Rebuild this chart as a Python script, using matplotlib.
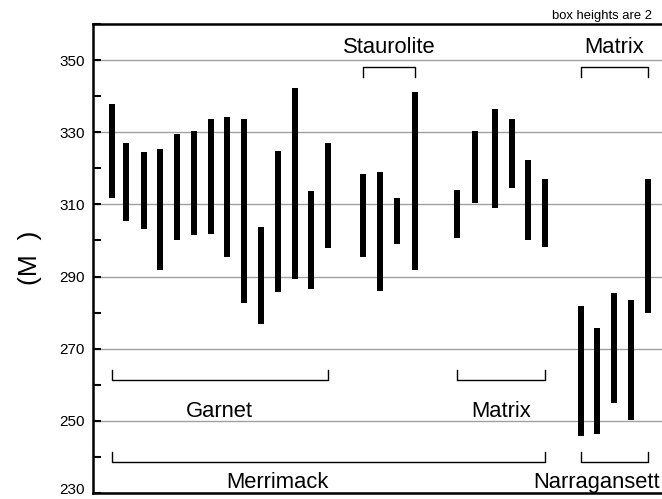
import matplotlib.pyplot as plt
from matplotlib.ticker import MultipleLocator
from matplotlib.transforms import ScaledTranslation

plt.rcParams['font.family'] = ['Liberation Sans', 'DejaVu Sans']

# sample positions (slot along the traverse) and age ranges (M.y.)
garnet_x = [1.13, 1.98, 3.02, 3.99, 4.98, 5.99, 7.02, 7.99, 9.01, 10.0, 11.01, 12.0, 12.96, 13.97]
garnet_lo = [311.8, 305.4, 303.1, 291.9, 300.1, 301.6, 301.7, 295.5, 282.8, 276.8, 285.6, 289.2, 286.6, 297.9]
garnet_hi = [337.7, 326.9, 324.5, 325.3, 329.4, 330.3, 333.7, 334.2, 333.7, 303.7, 324.8, 342.2, 313.6, 326.9]

staur_x = [16.09, 17.08, 18.11, 19.15]
staur_lo = [295.5, 286.0, 299.0, 291.8]
staur_hi = [318.4, 319.0, 311.8, 341.2]

mer_matrix_x = [21.68, 22.72, 23.93, 24.92, 25.89, 26.9]
mer_matrix_lo = [300.7, 310.5, 308.9, 314.5, 300.0, 298.1]
mer_matrix_hi = [314.0, 330.3, 336.5, 333.7, 322.3, 317.0]

narr_x = [29.03, 30.0, 31.01, 32.02, 33.02]
narr_lo = [245.7, 246.3, 255.0, 250.1, 279.8]
narr_hi = [281.9, 275.8, 285.3, 283.6, 317.0]

fig = plt.figure(figsize=(6.62, 4.99), dpi=100)
ax = fig.add_axes([93 / 662, 6 / 499, 1 - 93 / 662, 469 / 499])

groups = [(garnet_x, garnet_lo, garnet_hi), (staur_x, staur_lo, staur_hi),
          (mer_matrix_x, mer_matrix_lo, mer_matrix_hi), (narr_x, narr_lo, narr_hi)]
for xs, lo, hi in groups:
    ax.bar(xs, [h - l for l, h in zip(lo, hi)], bottom=lo, width=0.36, color='black', zorder=3)

ax.set_xlim(0, 33.87)
ax.set_ylim(230, 360)
ax.yaxis.set_major_locator(MultipleLocator(20))
ax.yaxis.set_minor_locator(MultipleLocator(10))
ax.set_yticks([230, 250, 270, 290, 310, 330, 350])
ax.set_xticks([])
ax.tick_params(axis='y', which='both', direction='in', length=6, width=1.5, labelsize=11, pad=6)
ax.grid(axis='y', which='major', color='#a0a0a0', linewidth=1.0, zorder=0)

# lowest label sits right on the figure edge; nudge it up a little
lab0 = ax.get_yticklabels()[0]
lab0.set_transform(lab0.get_transform() + ScaledTranslation(0, 3 / 72, fig.dpi_scale_trans))

for s in ['left', 'top', 'bottom']:
    ax.spines[s].set_linewidth(1.8)
ax.spines['right'].set_visible(False)


def bracket(xs, y, tick, label, label_x, label_y):
    x0, x1 = min(xs), max(xs)
    ax.plot([x0, x0, x1, x1], [y + tick, y, y, y + tick], color='black', lw=1.0, zorder=4)
    ax.text(label_x, label_y, label, ha='center', va='baseline', fontsize=15.8)


bracket(garnet_x, 261.4, 2.8, 'Garnet', (min(garnet_x) + max(garnet_x)) / 2, 251.2)
bracket(mer_matrix_x, 261.4, 2.8, 'Matrix', (min(mer_matrix_x) + max(mer_matrix_x)) / 2, 251.2)
bracket(garnet_x + mer_matrix_x, 238.7, 2.8, 'Merrimack', 11.0, 231.4)
bracket(narr_x, 238.7, 2.8, 'Narragansett', 30.0, 231.4)
bracket(staur_x, 348.1, -2.8, 'Staurolite', (min(staur_x) + max(staur_x)) / 2, 352.0)
bracket(narr_x, 348.1, -2.8, 'Matrix', (min(narr_x) + max(narr_x)) / 2, 352.0)

ax.text(33.26, 361.5, 'box heights are 2', ha='right', va='baseline', fontsize=9.4, clip_on=False)

fig.text(30 / 662, 1 - 258 / 499, '(M  )', rotation=90, ha='center', va='center', fontsize=19)

fig.savefig('out.png', dpi=100)
